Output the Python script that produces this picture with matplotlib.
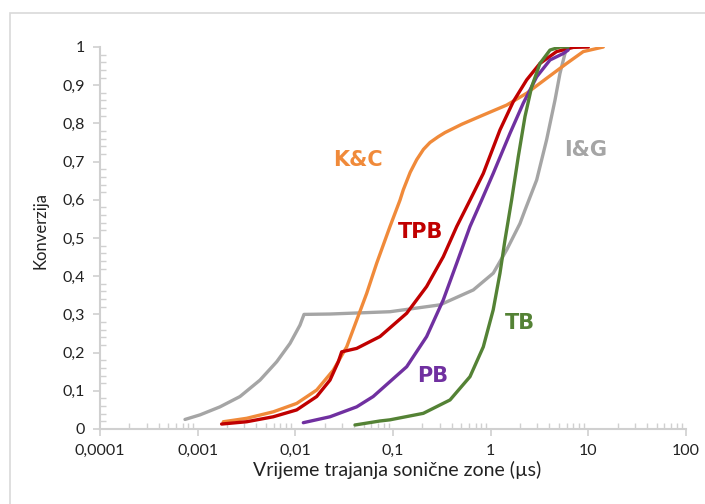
import matplotlib
matplotlib.use("Agg")
import matplotlib.pyplot as plt
from matplotlib.patches import Rectangle
from matplotlib.ticker import FixedLocator, LogLocator, MultipleLocator, NullFormatter

# ---- data ----
ig_x = [0.000742, 0.001057, 0.001693, 0.002713, 0.004346, 0.006445, 0.00882, 0.01116, 0.01227,
        0.02264, 0.07357, 0.0931, 0.3029, 0.6639, 1.064, 1.459, 1.996, 2.246, 2.959, 3.738,
        4.557, 5.125, 5.766, 6.003]
ig_y = [0.025, 0.037, 0.058, 0.085, 0.128, 0.176, 0.224, 0.272, 0.300,
        0.301, 0.306, 0.307, 0.325, 0.364, 0.408, 0.469, 0.538, 0.573, 0.652, 0.757,
        0.861, 0.931, 0.983, 1.0]

kc_x = [0.00183, 0.003177, 0.005948, 0.01033, 0.01655, 0.02447, 0.03356, 0.04249, 0.05377,
        0.06808, 0.0931, 0.1179, 0.1274, 0.15, 0.1748, 0.205, 0.2392, 0.29, 0.3405, 0.5086,
        0.8404, 1.459, 2.338, 3.738, 6.003, 8.878, 14.23]
kc_y = [0.019, 0.028, 0.045, 0.067, 0.102, 0.154, 0.215, 0.285, 0.355,
        0.434, 0.530, 0.599, 0.626, 0.672, 0.705, 0.732, 0.750, 0.765, 0.776, 0.798,
        0.822, 0.848, 0.879, 0.918, 0.957, 0.988, 1.0]

tpb_x = [0.001758, 0.003177, 0.005948, 0.01033, 0.01655, 0.02264, 0.02754, 0.02983, 0.04249,
         0.06268, 0.07357, 0.1381, 0.2210, 0.3272, 0.4490, 0.6141, 0.8404, 1.2456, 1.704,
         2.338, 3.198, 4.732, 7.004, 10.0]
tpb_y = [0.013, 0.019, 0.032, 0.050, 0.085, 0.128, 0.176, 0.202, 0.211,
         0.233, 0.242, 0.303, 0.373, 0.451, 0.530, 0.599, 0.669, 0.783, 0.857,
         0.914, 0.957, 0.988, 0.999, 1.0]

pb_x = [0.01207, 0.02264, 0.04249, 0.06268, 0.1381, 0.2210, 0.3272, 0.4490, 0.6141,
        0.8079, 1.062, 1.577, 2.158, 2.959, 4.050, 5.541, 6.219]
pb_y = [0.0165, 0.032, 0.058, 0.085, 0.163, 0.242, 0.338, 0.434, 0.530,
        0.599, 0.669, 0.774, 0.853, 0.922, 0.966, 0.983, 0.992]

tb_x = [0.04082, 0.07357, 0.0931, 0.2042, 0.3834, 0.6141, 0.8404, 1.062, 1.2456, 1.402,
        1.64, 1.918, 2.246, 2.630, 3.198, 4.050, 5.125, 6.219]
tb_y = [0.0105, 0.021, 0.024, 0.041, 0.076, 0.137, 0.215, 0.312, 0.408, 0.495,
        0.600, 0.713, 0.818, 0.896, 0.957, 0.992, 1.0, 1.0]

series = [
    ("I&G", ig_x, ig_y, "#A5A5A5"),
    ("K&C", kc_x, kc_y, "#F08A3A"),
    ("TPB", tpb_x, tpb_y, "#C00000"),
    ("PB", pb_x, pb_y, "#7030A0"),
    ("TB", tb_x, tb_y, "#548235"),
]

label_pos = {"K&C": (0.04382, 0.704), "TPB": (0.1934, 0.516), "PB": (0.2567, 0.139),
             "TB": (1.996, 0.277), "I&G": (9.46, 0.730)}

xticks = [0.0001, 0.001, 0.01, 0.1, 1, 10, 100]
xticklabels = ["0,0001", "0,001", "0,01", "0,1", "1", "10", "100"]
yticks = [0, 0.1, 0.2, 0.3, 0.4, 0.5, 0.6, 0.7, 0.8, 0.9, 1.0]
yticklabels = ["0", "0,1", "0,2", "0,3", "0,4", "0,5", "0,6", "0,7", "0,8", "0,9", "1"]

plt.rcParams['font.family'] = ['Lato', 'DejaVu Sans']

fig = plt.figure(figsize=(7.05, 5.04), dpi=100)
ax = fig.add_axes([100/705, 75/504, 586/705, 382/504])

fig.patches.append(Rectangle((10/705, -0.1), 1.2, (504-13)/504 + 0.1,
                             transform=fig.transFigure, fill=False,
                             edgecolor="#D9D9D9", linewidth=1.2))

for name, xs, ys, c in series:
    ax.plot(xs, ys, color=c, linewidth=2.4, solid_capstyle="round", solid_joinstyle="round")
    lx, ly = label_pos[name]
    ax.text(lx, ly, name, color=c, fontsize=15, fontweight="bold", ha="center", va="center",
            family=["DejaVu Sans"])

ax.set_xscale("log")
ax.set_xlim(0.0001, 100)
ax.set_ylim(0, 1)
ax.xaxis.set_major_locator(FixedLocator(xticks))
ax.set_xticklabels(xticklabels)
ax.xaxis.set_minor_locator(LogLocator(base=10, subs=range(2, 10), numticks=20))
ax.xaxis.set_minor_formatter(NullFormatter())
ax.yaxis.set_major_locator(FixedLocator(yticks))
ax.set_yticklabels(yticklabels)
ax.yaxis.set_minor_locator(MultipleLocator(0.02))

for s in ["top", "right"]:
    ax.spines[s].set_visible(False)
for s in ["left", "bottom"]:
    ax.spines[s].set_color("#D0D0D0")
    ax.spines[s].set_linewidth(1.5)

ax.tick_params(axis="both", which="major", direction="out", length=5, width=1.2,
               color="#D0D0D0", labelsize=11.5, labelcolor="#222222", pad=6)
ax.tick_params(axis="both", which="minor", direction="in", length=4, width=1.0, color="#D0D0D0")

ax.set_xlabel("Vrijeme trajanja sonične zone (µs)", fontsize=14, color="#222222")
ax.xaxis.set_label_coords(0.507, -0.107)
ax.xaxis.label.set_va("center")
ax.set_ylabel("Konverzija", fontsize=12, color="#222222")
ax.yaxis.set_label_coords(-0.102, 0.52)
ax.yaxis.label.set_va("center")

fig.savefig("out.png", dpi=100)
